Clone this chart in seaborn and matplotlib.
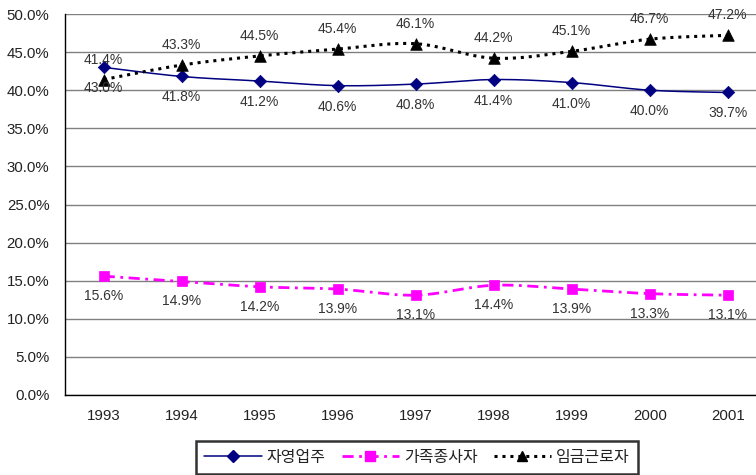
import numpy as np
import pandas as pd
import seaborn as sns
import matplotlib.pyplot as plt
from matplotlib.lines import Line2D

years = ['1993', '1994', '1995', '1996', '1997', '1998', '1999', '2000', '2001']
self_employed = [43.0, 41.8, 41.2, 40.6, 40.8, 41.4, 41.0, 40.0, 39.7]
family_workers = [15.6, 14.9, 14.2, 13.9, 13.1, 14.4, 13.9, 13.3, 13.1]
wage_workers = [41.4, 43.3, 44.5, 45.4, 46.1, 44.2, 45.1, 46.7, 47.2]
series_names = ['자영업주', '가족종사자', '임금근로자']
y_ticks = [0, 5, 10, 15, 20, 25, 30, 35, 40, 45, 50]

sns.set_theme(style='white')
plt.rcParams['font.family'] = ['Liberation Sans', 'Noto Sans CJK KR', 'DejaVu Sans']

df = pd.DataFrame({
    'pos': list(range(len(years))) * 3,
    'value': self_employed + family_workers + wage_workers,
    'series': [s for s in series_names for _ in years],
})

colors = {'자영업주': '#000080', '가족종사자': '#FF00FF', '임금근로자': '#000000'}
markers = {'자영업주': 'D', '가족종사자': 's', '임금근로자': '^'}
sizes = {'자영업주': 40, '가족종사자': 60, '임금근로자': 70}
line_kw = {
    '자영업주': dict(lw=1.1, linestyle='-'),
    '가족종사자': dict(lw=2.0, linestyle=(0, (4, 2, 1, 2))),
    '임금근로자': dict(lw=2.2, linestyle=(0, (1, 1.6))),
}
label_off = {'자영업주': 21, '가족종사자': 20, '임금근로자': -20}

fig = plt.figure(figsize=(7.56, 4.75), dpi=100)
W, H = 756, 475
left_px, right_px, top_px, bot_px = 64.7, 766.7, 14, 395
ax = fig.add_axes([left_px / W, 1 - bot_px / H, (right_px - left_px) / W, (bot_px - top_px) / H])


def smooth(xs, ys, n=30):
    p = np.column_stack([xs, ys]).astype(float)
    out = []
    for i in range(len(p) - 1):
        p0 = p[i - 1] if i > 0 else p[i]
        p1, p2 = p[i], p[i + 1]
        p3 = p[i + 2] if i + 2 < len(p) else p[i + 1]
        c1 = p1 + (p2 - p0) / 6
        c2 = p2 - (p3 - p1) / 6
        t = np.linspace(0, 1, n)[:, None]
        seg = ((1 - t) ** 3) * p1 + 3 * ((1 - t) ** 2) * t * c1 + 3 * (1 - t) * t * t * c2 + t ** 3 * p2
        out.append(seg if i == 0 else seg[1:])
    out = np.vstack(out)
    return out[:, 0], out[:, 1]


for s in series_names:
    sub = df[df.series == s]
    sx, sy = smooth(sub.pos.values, sub.value.values)
    ax.plot(sx, sy, color=colors[s], zorder=3, dash_capstyle='butt', **line_kw[s])

for s in series_names:
    sub = df[df.series == s]
    sns.scatterplot(data=sub, x='pos', y='value', marker=markers[s], color=colors[s],
                    s=sizes[s], edgecolor=colors[s], linewidth=0.5, ax=ax, zorder=4, legend=False)
    for x, v in zip(sub.pos, sub.value):
        ax.annotate(f'{v:.1f}%', (x, v), xytext=(0, -label_off[s] * 0.72), textcoords='offset points',
                    ha='center', va='center', fontsize=10, color='#333333', zorder=5)

ax.set_xlim(-0.5, len(years) - 0.5)
ax.set_ylim(0, 50)
ax.set_yticks(y_ticks)
ax.set_yticklabels([f'{v:.1f}%' for v in y_ticks], fontsize=10.8, color='#222222')
ax.set_xticks(range(len(years)))
ax.set_xticklabels(years, fontsize=10.8, color='#222222')
ax.set_xticks(np.arange(-0.5, len(years), 1), minor=True)
ax.tick_params(axis='x', which='major', length=0, pad=10)
ax.tick_params(axis='x', which='minor', length=5, width=1, color='#000000', direction='out')
ax.tick_params(axis='y', which='major', length=0, pad=11)
ax.set_xlabel('')
ax.set_ylabel('')
ax.grid(axis='y', color='#808080', lw=1.0)
ax.grid(axis='x', visible=False)
for side in ['top', 'right']:
    ax.spines[side].set_visible(False)
ax.spines['left'].set_color('#000000')
ax.spines['left'].set_linewidth(1.0)
ax.spines['bottom'].set_color('#000000')
ax.spines['bottom'].set_linewidth(1.0)

handles = []
for s in series_names:
    handles.append(Line2D([], [], color=colors[s], marker=markers[s], markersize=7 if s != '자영업주' else 6,
                          **line_kw[s]))
leg = fig.legend(handles, series_names, loc='center', bbox_to_anchor=(417 / W, 1 - 457.5 / H),
                 ncol=3, frameon=True, fancybox=False, handlelength=3.6, columnspacing=1.0,
                 handletextpad=0.3, borderpad=0.5, borderaxespad=0,
                 prop={'family': 'Noto Sans CJK KR', 'size': 11.5})
leg.get_frame().set_edgecolor('#000000')
leg.get_frame().set_linewidth(1.8)
for t in leg.get_texts():
    t.set_color('#222222')

fig.savefig('out.png', dpi=100)
